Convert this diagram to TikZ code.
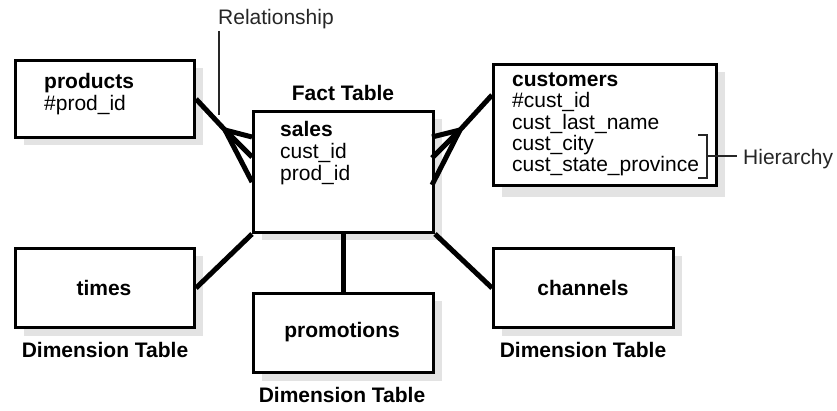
\documentclass[tikz,border=0pt]{standalone}
\usepackage{fontspec}
\setmainfont{Liberation Sans}
\usetikzlibrary{shadows}
\begin{document}
\begin{tikzpicture}[x=1pt,y=-1pt,
  font=\fontsize{21}{22}\selectfont,
  tbox/.style={draw=black, line width=3pt, fill=white, inner sep=0pt, anchor=north west,
    drop shadow={shadow xshift=8pt, shadow yshift=-8pt, opacity=1, fill=black!11}},
  lbl/.style={inner sep=0pt, anchor=base west},
  clbl/.style={inner sep=0pt, anchor=base},
  conn/.style={line width=5pt, line cap=butt, line join=round},
  thin/.style={line width=1.3pt, draw=black!85}]
\useasboundingbox (0,0) rectangle (837,411);
% boxes
\node[tbox, minimum width=179pt, minimum height=77pt] (products) at (14,59) {};
\node[tbox, minimum width=180pt, minimum height=121pt] (sales) at (252,110) {};
\node[tbox, minimum width=223pt, minimum height=121pt,
  drop shadow={shadow xshift=8pt, shadow yshift=-12pt, opacity=1, fill=black!11}] (customers) at (492,63) {};
\node[tbox, minimum width=179pt, minimum height=79pt] (times) at (14,247) {};
\node[tbox, minimum width=180pt, minimum height=79pt] (promotions) at (252,292) {};
\node[tbox, minimum width=180pt, minimum height=79pt] (channels) at (492,247) {};
% texts
\node[lbl] (t-prod) at (44,89) {\textbf{products}};
\node[lbl] (t-prodid) at (44,111) {\#prod\_id};
\node[lbl] (t-sales) at (280,137) {\textbf{sales}};
\node[lbl] (t-scust) at (280,159) {cust\_id};
\node[lbl] (t-sprod) at (280,181) {prod\_id};
\node[clbl] (t-fact) at (343,101) {\textbf{Fact Table}};
\node[lbl] (t-cust) at (512,87) {\textbf{customers}};
\node[lbl] (t-custid) at (512,108) {\#cust\_id};
\node[lbl] (t-clast) at (512,130) {cust\_last\_name};
\node[lbl] (t-ccity) at (512,151) {cust\_city};
\node[lbl] (t-cstate) at (512,172) {cust\_state\_province};
\node[clbl] (t-times) at (104,295) {\textbf{times}};
\node[clbl] (t-promo) at (342,337) {\textbf{promotions}};
\node[clbl] (t-chan) at (583,295) {\textbf{channels}};
\node[clbl] (d-times) at (105,357) {\textbf{Dimension Table}};
\node[clbl] (d-promo) at (342,402) {\textbf{Dimension Table}};
\node[clbl] (d-chan) at (583,357) {\textbf{Dimension Table}};
\node[lbl, text=black!85] (t-rel) at (218,25) {Relationship};
\node[lbl, text=black!85] (t-hier) at (743,165) {Hierarchy};
% crow's feet left
\coordinate (lf) at (225,130);
\coordinate (ls1) at (252,137);
\coordinate (ls2) at (252,157);
\coordinate (ls3) at (252,182);
\draw[conn] (products.east) -- (lf);
\draw[conn] (lf) -- (ls1);
\draw[conn] (lf) -- (ls2);
\draw[conn] (lf) -- (ls3);
% crow's feet right
\coordinate (cw) at (492,95);
\coordinate (rf) at (460,130);
\coordinate (rs1) at (432,137);
\coordinate (rs2) at (432,158);
\coordinate (rs3) at (432,185);
\draw[conn] (cw) -- (rf);
\draw[conn] (rf) -- (rs1);
\draw[conn] (rf) -- (rs2);
\draw[conn] (rf) -- (rs3);
% other connectors
\draw[conn] (times.east) -- (sales.south west);
\draw[conn] (sales.south) -- (promotions.north);
\draw[conn] (sales.south east) -- (channels.west);
% relationship leader
\coordinate (relA) at (219,31);
\coordinate (relB) at (219,115);
\draw[thin] (relA) -- (relB);
% hierarchy bracket
\coordinate (hb1) at (698,135);
\coordinate (hb2) at (707,135);
\coordinate (hb3) at (707,178);
\coordinate (hb4) at (698,178);
\coordinate (hm) at (707,156);
\coordinate (hl) at (737,156);
\draw[thin] (hb1) -- (hb2) -- (hb3) -- (hb4);
\draw[thin] (hm) -- (hl);
\end{tikzpicture}
\end{document}
